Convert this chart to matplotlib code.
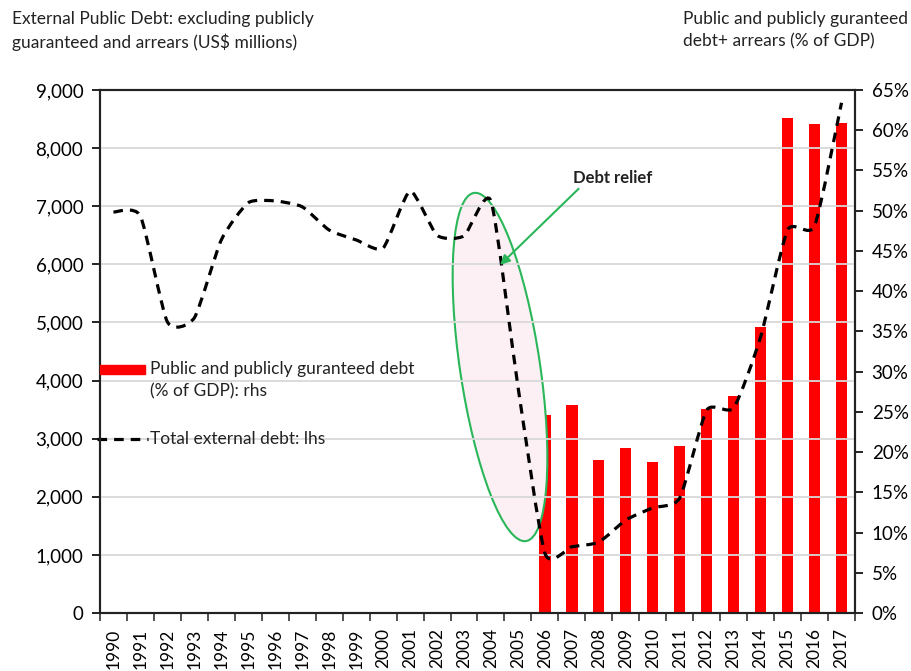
import numpy as np
import matplotlib.pyplot as plt
from matplotlib.path import Path
from matplotlib.patches import PathPatch, Rectangle, Ellipse
from matplotlib.lines import Line2D

plt.rcParams['font.family'] = ['Lato', 'DejaVu Sans']

years = [str(y) for y in range(1990, 2018)]

# total external debt, US$ millions (lhs)
ext_debt = [6900, 6830, 5010, 5080, 6420, 7060, 7090, 6990, 6590, 6420,
            6280, 7260, 6500, 6490, 7090, 3900, 1030, 1140, 1220, 1600,
            1810, 1980, 3490, 3530, 4750, 6590, 6660, 8780]

# public and publicly guaranteed debt, % of GDP (rhs), from 2006
ppg_years = [str(y) for y in range(2006, 2018)]
ppg_pct = [24.6, 25.8, 19.0, 20.5, 18.8, 20.8, 25.4, 27.0, 35.6, 61.5, 60.8, 60.9]

red = '#ff0000'
green = '#2ab75a'
dash = (0, (3, 2.2))


def smooth_path(x, y, t=0.3):
    # bezier through the points, like Excel's smoothed line
    x = np.asarray(x, float)
    y = np.asarray(y, float)
    verts = [(x[0], y[0])]
    codes = [Path.MOVETO]
    n = len(x)
    for i in range(n - 1):
        x0, y0 = (x[i - 1], y[i - 1]) if i > 0 else (x[i], y[i])
        x3, y3 = (x[i + 2], y[i + 2]) if i + 2 < n else (x[i + 1], y[i + 1])
        c1 = (x[i] + (x[i + 1] - x0) * t / 3, y[i] + (y[i + 1] - y0) * t / 3)
        c2 = (x[i + 1] - (x3 - x[i]) * t / 3, y[i + 1] - (y3 - y[i]) * t / 3)
        verts += [c1, c2, (x[i + 1], y[i + 1])]
        codes += [Path.CURVE4] * 3
    return Path(verts, codes)


fig = plt.figure(figsize=(9.12, 6.71), dpi=100)
ax = fig.add_axes([0.1096, 0.0864, 0.8279, 0.7795])
ax2 = ax.twinx()

xpos = np.arange(len(years))
bar_x = [years.index(y) for y in ppg_years]
ax2.bar(bar_x, ppg_pct, width=0.42, color=red, zorder=2)

ax.set_zorder(ax2.get_zorder() + 1)
ax.patch.set_visible(False)

line = PathPatch(smooth_path(xpos, ext_debt), fill=False, color='black',
                 lw=2.3, linestyle=dash, zorder=4)
ax.add_patch(line)

ax.set_xlim(-0.5, len(years) - 0.5)
ax.set_ylim(0, 9000)
ax2.set_ylim(0, 65)
ax.set_yticks(np.arange(0, 9001, 1000))
ax.set_yticklabels([f'{v:,}' for v in range(0, 9001, 1000)])
ax2.set_yticks(np.arange(0, 66, 5))
ax2.set_yticklabels([f'{v}%' for v in range(0, 66, 5)])

ax.set_xticks(xpos)
ax.set_xticklabels(years, rotation=90, fontsize=12.5)
ax.set_xticks(np.arange(-0.5, len(years)), minor=True)
ax.tick_params(axis='x', which='major', length=0, pad=11)
ax.tick_params(axis='x', which='minor', length=6, width=1.2, color='#333333')
ax.tick_params(axis='y', length=6, width=1.2, labelsize=13.5, pad=6)
ax2.tick_params(axis='y', length=6, width=1.2, labelsize=13.5, pad=6)

ax.yaxis.grid(True, color='#d9d9d9', lw=1.3)
ax.set_axisbelow(True)
for a in (ax, ax2):
    for s in a.spines.values():
        s.set_linewidth(1.5)
        s.set_color('#222222')

# ellipse highlighting the debt relief drop (display pixels)
ell = Ellipse((500, 671 - 367), 80, 352, angle=8.5, transform=None,
              facecolor='#fdf0f4', edgecolor=green, lw=1.5, zorder=1)
fig.add_artist(ell)
ax.annotate('', xy=(14.34, 5990), xytext=(17.25, 7300),
            arrowprops=dict(arrowstyle='-|>', color=green, lw=1.5,
                            shrinkA=0, shrinkB=0, mutation_scale=14),
            zorder=5)
ax.text(18.5, 7490, 'Debt relief', fontsize=12, fontweight='bold',
        ha='center', va='center', color='#222222', zorder=5)

# legend drawn by hand
ax.add_patch(Rectangle((0, 0.457), 0.0596, 0.017, transform=ax.transAxes,
                       color=red, clip_on=False, zorder=5))
ax.text(0.066, 0.482, 'Public and publicly guranteed debt\n(% of GDP): rhs',
        transform=ax.transAxes, fontsize=12.5, va='top', ha='left',
        linespacing=1.45, color='#222222')
ax.add_line(Line2D([-0.004, 0.064], [0.333, 0.333], transform=ax.transAxes,
                   color='black', lw=2.3, linestyle=dash, clip_on=False))
ax.text(0.066, 0.333, 'Total external debt: lhs', transform=ax.transAxes,
        fontsize=12.5, va='center', ha='left', color='#222222')

fig.text(12 / 912, 1 - 11 / 671,
         'External Public Debt: excluding publicly\nguaranteed and arrears (US$ millions)',
         fontsize=12.5, va='top', ha='left', color='#222222', linespacing=1.45)
fig.text(683 / 912, 1 - 11 / 671,
         'Public and publicly guranteed\ndebt+ arrears (% of GDP)',
         fontsize=12.5, va='top', ha='left', color='#222222', linespacing=1.45)

fig.savefig('out.png', dpi=100)
